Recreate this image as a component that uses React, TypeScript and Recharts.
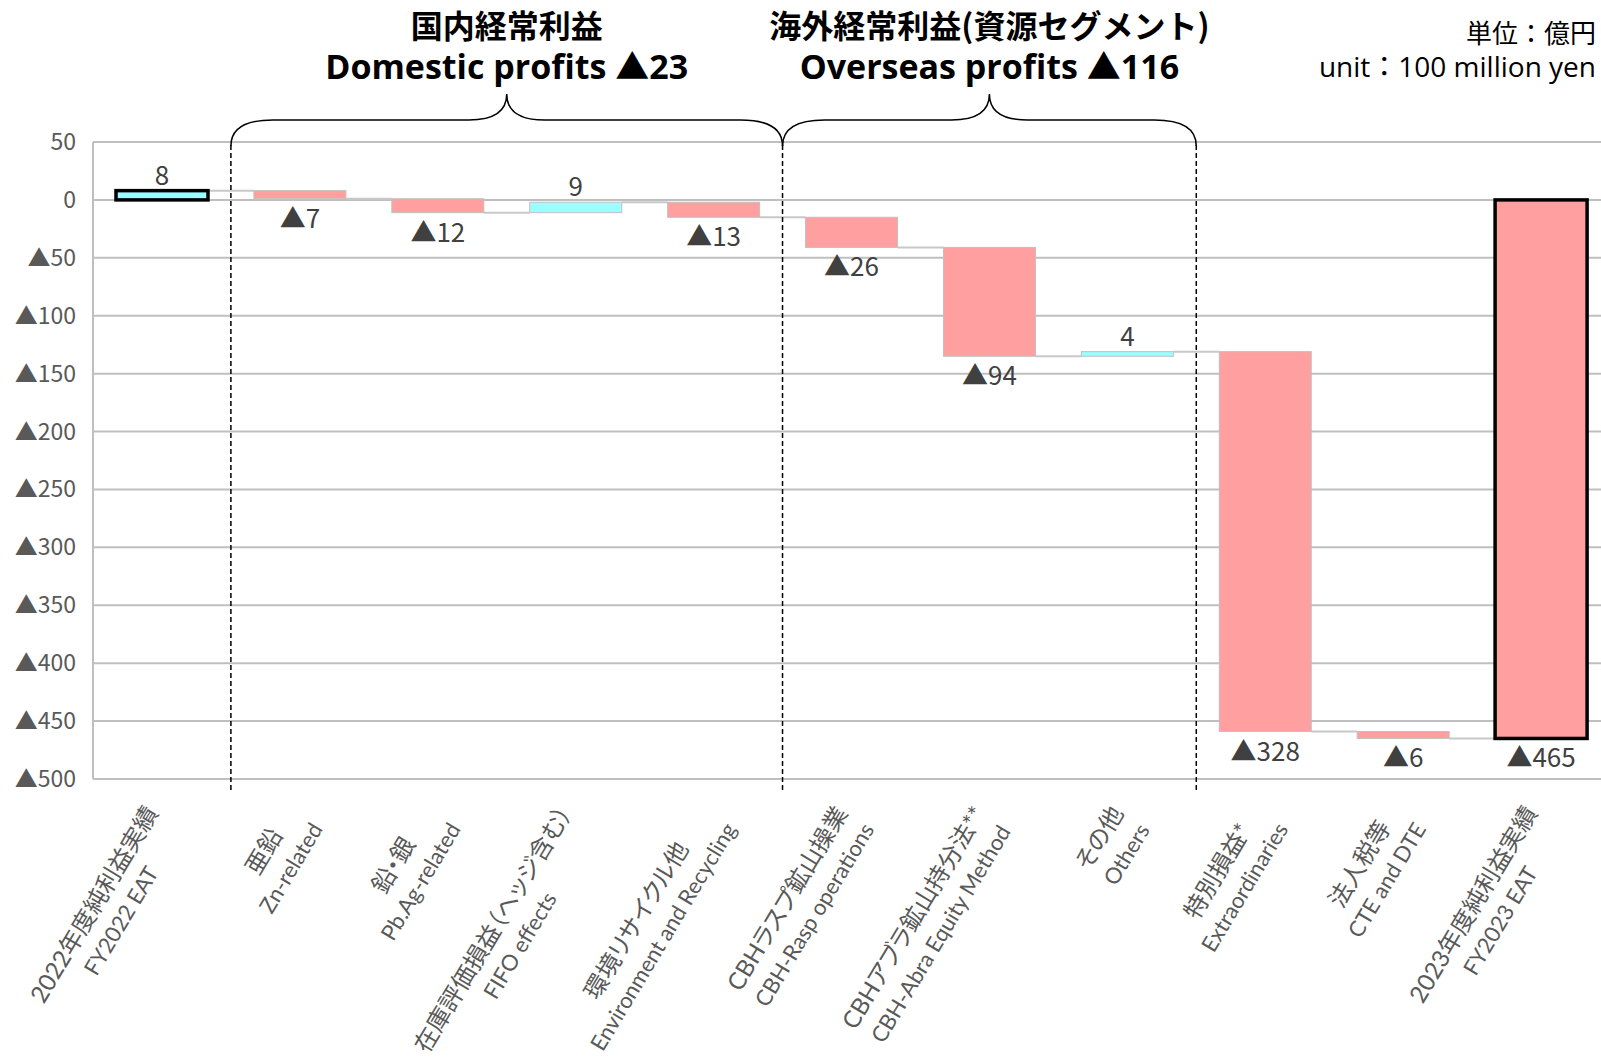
import React from 'react';
import { BarChart, Bar, XAxis, YAxis, CartesianGrid, Cell, LabelList } from 'recharts';

const CATEGORY_JA = [
  '2022年度純利益実績',
  '亜鉛',
  '鉛・銀',
  '在庫評価損益（ヘッジ含む）',
  '環境リサイクル他',
  'CBHラスプ鉱山操業',
  'CBHアブラ鉱山持分法**',
  'その他',
  '特別損益*',
  '法人税等',
  '2023年度純利益実績',
];
const CATEGORY_EN = [
  'FY2022 EAT',
  'Zn-related',
  'Pb.Ag-related',
  'FIFO effects',
  'Environment and Recycling',
  'CBH-Rasp operations',
  'CBH-Abra Equity Method',
  'Others',
  'Extraordinaries',
  'CTE and DTE',
  'FY2023 EAT',
];
const DELTAS = [8, -7, -12, 9, -13, -26, -94, 4, -328, -6, -465];
const IS_TOTAL = [true, false, false, false, false, false, false, false, false, false, true];
const Y_TICKS = [50, 0, -50, -100, -150, -200, -250, -300, -350, -400, -450, -500];
const GROUPS = [
  { ja: '国内経常利益', en: 'Domestic profits ▲23', from: 1, to: 5 },
  { ja: '海外経常利益(資源セグメント)', en: 'Overseas profits ▲116', from: 5, to: 8 },
];
const DIVIDERS = [1, 5, 8];
const UNIT_JA = '単位：億円';
const UNIT_EN = 'unit：100 million yen';

// layout
const CHART_W = 1620;
const CHART_H = 1061;
const PLOT_LEFT = 93;
const PLOT_RIGHT = 1610;
const PLOT_TOP = 142;
const X_AXIS_H = 280;
const PLOT_BOTTOM = CHART_H - 2 - X_AXIS_H;
const BAND = (PLOT_RIGHT - PLOT_LEFT) / CATEGORY_JA.length;
const BAR_SIZE = 92;
const FONT = '"Noto Sans CJK JP", "Noto Sans", sans-serif';
const LABEL_FONT = 'Lato, "Noto Sans CJK JP", sans-serif';
const TITLE_EN_FONT = '"Open Sans", "Noto Sans CJK JP", sans-serif';
const PINK = '#FF9F9F';
const CYAN = '#99FFFF';
const GRID = '#bfbfbf';
const CONNECTOR = '#c8c8c8';

type Row = { key: string; range: [number, number]; delta: number; end: number; total: boolean };
const DATA: Row[] = (() => {
  let run = 0;
  return DELTAS.map((d, i) => {
    let lo: number, hi: number;
    if (IS_TOTAL[i]) {
      lo = Math.min(0, d);
      hi = Math.max(0, d);
      run = d;
    } else {
      const s = run;
      const e = run + d;
      lo = Math.min(s, e);
      hi = Math.max(s, e);
      run = e;
    }
    return { key: 'c' + i, range: [lo, hi] as [number, number], delta: d, end: run, total: IS_TOTAL[i] };
  });
})();

const widthCache: Record<string, number> = {};
function textWidth(s: string, size: number) {
  const k = s + '|' + size;
  if (widthCache[k] != null) return widthCache[k];
  let w = s.length * size * 0.6;
  try {
    const span = document.createElement('span');
    span.style.position = 'absolute';
    span.style.visibility = 'hidden';
    span.style.whiteSpace = 'nowrap';
    span.style.fontFamily = LABEL_FONT;
    span.style.fontSize = size + 'px';
    (span.style as any).fontFeatureSettings = '"palt"';
    span.textContent = s;
    document.body.appendChild(span);
    w = span.getBoundingClientRect().width;
    document.body.removeChild(span);
  } catch (e) {
    /* ignore */
  }
  widthCache[k] = w;
  return w;
}

const X_JA_SIZE = 24;
const X_EN_SIZE = 22;
const XTick = (props: any) => {
  const { x, payload } = props;
  const i = DATA.findIndex((d) => d.key === payload.value);
  if (i < 0) return null;
  const l1 = CATEGORY_JA[i];
  const l2 = CATEGORY_EN[i];
  const W = Math.max(textWidth(l1, X_JA_SIZE), textWidth(l2, X_EN_SIZE));
  const st = { fontFeatureSettings: '"palt"' } as any;
  return (
    <g transform={`translate(${x - 3},${PLOT_BOTTOM + 34}) rotate(-59)`}>
      <text x={-W / 2} y={0} textAnchor="middle" fontSize={X_JA_SIZE} fill="#595959" fontFamily={LABEL_FONT} style={st}>
        {l1}
      </text>
      <text x={-W / 2} y={31} textAnchor="middle" fontSize={X_EN_SIZE} fill="#595959" fontFamily={LABEL_FONT} style={st}>
        {l2}
      </text>
    </g>
  );
};

const YTick = (props: any) => {
  const { y, payload } = props;
  const v = payload.value as number;
  const s = v < 0 ? '▲' + Math.abs(v) : String(v);
  return (
    <text x={76} y={y} dy={8} textAnchor="end" fontSize={23} fill="#595959" fontFamily={FONT}>
      {s}
    </text>
  );
};

// bar with its connector to the next bar drawn in the gap
const WaterfallShape = (props: any) => {
  const { x, y, width, height, fill, stroke, strokeWidth, payload, index } = props;
  if (x == null || y == null) return null;
  const top = Math.min(y, y + height);
  const h = Math.abs(height);
  const idx = payload && payload.key ? DATA.findIndex((d) => d.key === payload.key) : index;
  const row = DATA[idx];
  const hasNext = idx >= 0 && idx < DATA.length - 1;
  const endY = row && row.delta >= 0 ? top : top + h;
  return (
    <g>
      {hasNext && (
        <line x1={x + width} x2={x + BAND} y1={endY} y2={endY} stroke={CONNECTOR} strokeWidth={2} />
      )}
      <rect x={x} y={top} width={width} height={h} fill={fill} stroke={stroke} strokeWidth={strokeWidth} />
    </g>
  );
};

const renderLabel = (props: any) => {
  const vb = props.viewBox || props;
  const x = vb.x ?? props.x;
  const y = vb.y ?? props.y;
  const w = vb.width ?? props.width;
  const h = vb.height ?? props.height;
  const value = props.value as number;
  const top = Math.min(y, y + h);
  const bottom = Math.max(y, y + h);
  const cx = x + w / 2;
  const neg = value < 0;
  return (
    <text
      x={cx}
      y={neg ? bottom + 29 : top - 6}
      textAnchor="middle"
      fontSize={26}
      fill="#404040"
      fontFamily={FONT}
    >
      {neg ? '▲' + Math.abs(value) : String(value)}
    </text>
  );
};

function bracePath(x0: number, x1: number, yEnd: number, yH: number, yTip: number) {
  const xm = (x0 + x1) / 2;
  const r = 42;
  const rt = 38;
  return [
    `M ${x0} ${yEnd}`,
    `Q ${x0} ${yH} ${x0 + r} ${yH}`,
    `L ${xm - rt} ${yH}`,
    `Q ${xm} ${yH} ${xm} ${yTip}`,
    `Q ${xm} ${yH} ${xm + rt} ${yH}`,
    `L ${x1 - r} ${yH}`,
    `Q ${x1} ${yH} ${x1} ${yEnd}`,
  ].join(' ');
}

export default function App() {
  return (
    <div
      style={{
        position: 'fixed',
        left: 0,
        top: 0,
        width: 1601,
        height: 1061,
        overflow: 'hidden',
        background: '#ffffff',
      }}
    >
      <BarChart
        width={CHART_W}
        height={CHART_H}
        data={DATA}
        margin={{ top: PLOT_TOP, right: CHART_W - PLOT_RIGHT, bottom: 2, left: 0 }}
      >
        <CartesianGrid vertical={false} stroke={GRID} strokeWidth={2} />
        <XAxis
          dataKey="key"
          type="category"
          interval={0}
          tickLine={false}
          height={X_AXIS_H}
          axisLine={{ stroke: GRID, strokeWidth: 2 }}
          tick={(p: any) => <XTick {...p} />}
        />
        <YAxis
          type="number"
          domain={[-500, 50]}
          ticks={Y_TICKS}
          interval={0}
          allowDataOverflow
          tickLine={false}
          width={PLOT_LEFT}
          axisLine={{ stroke: GRID, strokeWidth: 2 }}
          tick={(p: any) => <YTick {...p} />}
        />
        <Bar dataKey="range" barSize={BAR_SIZE} isAnimationActive={false} shape={(p: any) => <WaterfallShape {...p} />}>
          {DATA.map((d, i) => (
            <Cell
              key={'cell' + i}
              fill={d.delta >= 0 ? CYAN : PINK}
              stroke={d.total ? '#000000' : '#c0c0c0'}
              strokeWidth={d.total ? 3.5 : 1}
            />
          ))}
          <LabelList dataKey="delta" content={renderLabel} />
        </Bar>
      </BarChart>
      <svg
        width={1601}
        height={1061}
        style={{ position: 'absolute', left: 0, top: 0, pointerEvents: 'none' }}
      >
        {DIVIDERS.map((b) => (
          <line
            key={'div' + b}
            x1={PLOT_LEFT + b * BAND}
            x2={PLOT_LEFT + b * BAND}
            y1={145}
            y2={790}
            stroke="#000"
            strokeWidth={1.5}
            strokeDasharray="5 3"
          />
        ))}
        {GROUPS.map((g) => {
          const x0 = PLOT_LEFT + g.from * BAND;
          const x1 = PLOT_LEFT + g.to * BAND;
          const xm = (x0 + x1) / 2;
          return (
            <g key={g.en}>
              <path d={bracePath(x0, x1, 146, 120, 94)} fill="none" stroke="#000" strokeWidth={1.5} />
              <text x={xm} y={38} textAnchor="middle" fontSize={32} fontWeight={700} fill="#000" fontFamily={FONT}>
                {g.ja}
              </text>
              <text x={xm} y={79} textAnchor="middle" fontSize={34} fontWeight={700} fill="#000" fontFamily={TITLE_EN_FONT}>
                {g.en}
              </text>
            </g>
          );
        })}
        <text x={1596} y={43} textAnchor="end" fontSize={26} fill="#000" fontFamily={FONT}>
          {UNIT_JA}
        </text>
        <text x={1596} y={77} textAnchor="end" fontSize={28} fill="#000" fontFamily={TITLE_EN_FONT}>
          {UNIT_EN}
        </text>
      </svg>
    </div>
  );
}
